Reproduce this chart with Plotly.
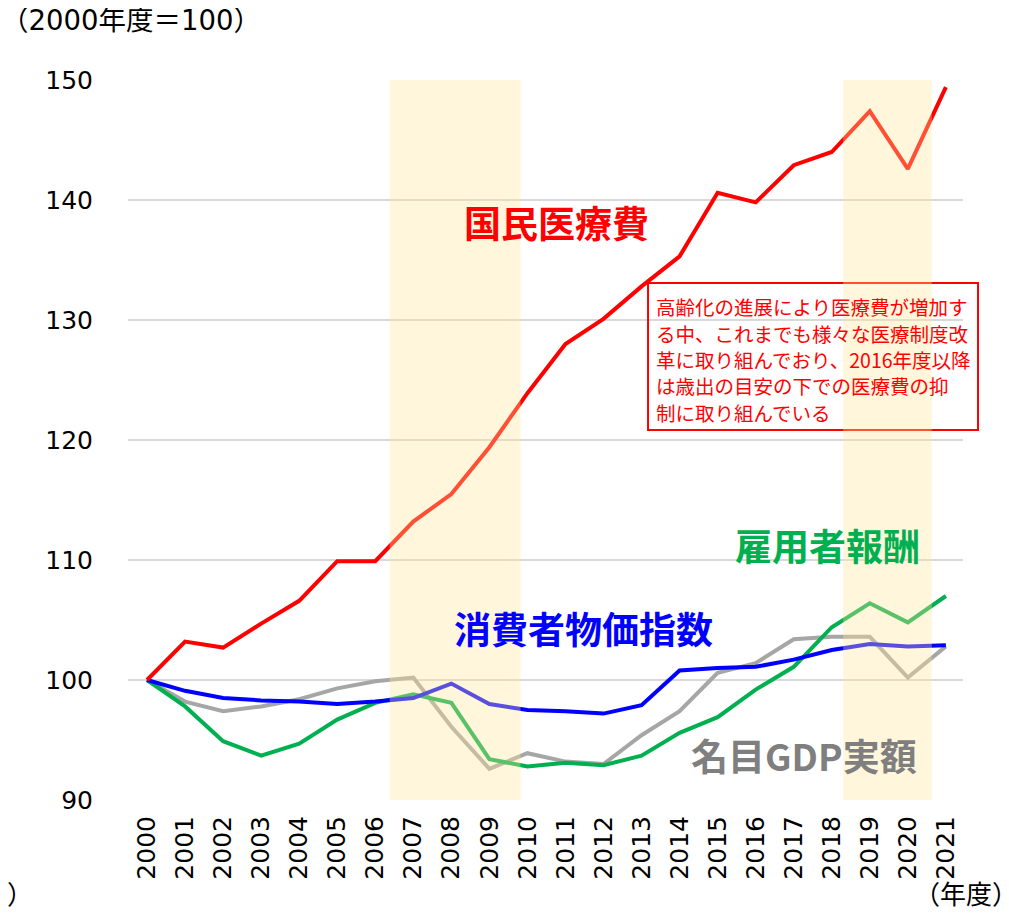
import plotly.graph_objects as go

years = list(range(2000, 2022))
year_labels = [str(y) for y in years]

medical = [100, 103.2, 102.7, 104.7, 106.6, 109.9, 109.9, 113.2, 115.5, 119.4, 123.9,
           128.0, 130.1, 132.8, 135.3, 140.6, 139.8, 142.9, 144.0, 147.4, 142.6, 149.4]
cpi = [100, 99.1, 98.5, 98.3, 98.2, 98.0, 98.2, 98.5, 99.7, 98.0, 97.5,
       97.4, 97.2, 97.9, 100.8, 101.0, 101.1, 101.7, 102.5, 103.0, 102.8, 102.9]
gdp = [100, 98.2, 97.4, 97.8, 98.4, 99.3, 99.9, 100.2, 96.1, 92.6, 93.9,
       93.2, 93.0, 95.4, 97.4, 100.6, 101.4, 103.4, 103.6, 103.6, 100.2, 102.8]
wages = [100, 97.8, 94.9, 93.7, 94.7, 96.7, 98.1, 98.8, 98.1, 93.4, 92.8,
         93.1, 92.9, 93.7, 95.6, 96.9, 99.2, 101.1, 104.4, 106.4, 104.8, 107.0]

# shaded periods (fiscal-year axis positions)
bands = [(2006.38, 2009.82), (2018.3, 2020.63)]

note_lines = ["高齢化の進展により医療費が増加す", "る中、これまでも様々な医療制度改",
              "革に取り組んでおり、2016年度以降", "は歳出の目安の下での医療費の抑",
              "制に取り組んでいる"]

JP = "Noto Sans CJK JP"
NUM = "DejaVu Sans"
MIX = "DejaVu Sans, Noto Sans CJK JP"

fig = go.Figure()
for vals, color in [(gdp, "#A6A6A6"), (wages, "#00B050"), (cpi, "#0000FF"), (medical, "#FF0000")]:
    fig.add_trace(go.Scatter(x=years, y=vals, mode="lines",
                             line=dict(color=color, width=4), showlegend=False))

# note box frame (paper coords)
fig.add_shape(type="rect", xref="paper", yref="paper", x0=0.6228, x1=1.018,
              y0=0.5139, y1=0.7181, line=dict(color="#FF0000", width=2), layer="above")

for x0, x1 in bands:
    fig.add_shape(type="rect", xref="x", yref="y", x0=x0, x1=x1, y0=90, y1=150.4,
                  fillcolor="#FFE699", opacity=0.35, line_width=0, layer="above")

labels = [
    ("国民医療費", 2010.76, 138.2, "#FF0000"),
    ("消費者物価指数", 2011.47, 104.3, "#0000FF"),
    ("雇用者報酬", 2017.9, 111.25, "#00B050"),
    ("名目GDP実額", 2017.27, 93.75, "#7F7F7F"),
]
for text, x, y, color in labels:
    fig.add_annotation(x=x, y=y, text=f"<b>{text}</b>", showarrow=False,
                       font=dict(family=JP, size=37, color=color))

for i, line in enumerate(note_lines):
    fig.add_annotation(xref="paper", yref="paper", x=0.6299, y=0.6851 - i * 0.0366,
                       xanchor="left", yanchor="middle", text=line, showarrow=False,
                       font=dict(family=JP, size=19.5, color="#FF0000"))

fig.add_annotation(xref="paper", yref="paper", x=0.1617, y=1.0833, xanchor="right",
                   yanchor="middle", text="（2000年度＝100）", showarrow=False,
                   font=dict(family=MIX, size=27.5, color="#000000"))
fig.add_annotation(xref="paper", yref="paper", x=1.068, y=-0.129, xanchor="right",
                   yanchor="middle", text="（年度）", showarrow=False,
                   font=dict(family=JP, size=26, color="#000000"))
fig.add_annotation(xref="paper", yref="paper", x=-0.1114, y=-0.129, xanchor="right",
                   yanchor="middle", text="（年度）", showarrow=False,
                   font=dict(family=JP, size=26, color="#000000"))

# page body keeps an 8px margin, so the figure is 8px smaller and shifted
fig.update_layout(
    width=1001, height=905,
    margin=dict(l=120, r=46, t=72, b=113),
    plot_bgcolor="white", paper_bgcolor="white",
)
fig.update_xaxes(range=[1999.5, 2021.45], tickvals=years, ticktext=year_labels,
                 tickangle=-90, showgrid=False, zeroline=False, showline=False,
                 ticks="", ticklabelstandoff=10,
                 tickfont=dict(family=NUM, size=25, color="#000000"))
fig.update_yaxes(range=[90, 150], dtick=10, showgrid=True, gridcolor="#D9D9D9",
                 gridwidth=1.5, zeroline=False, showline=False, ticks="",
                 ticklabelstandoff=34,
                 tickfont=dict(family=NUM, size=25, color="#000000"))

fig.write_html("out.html")
